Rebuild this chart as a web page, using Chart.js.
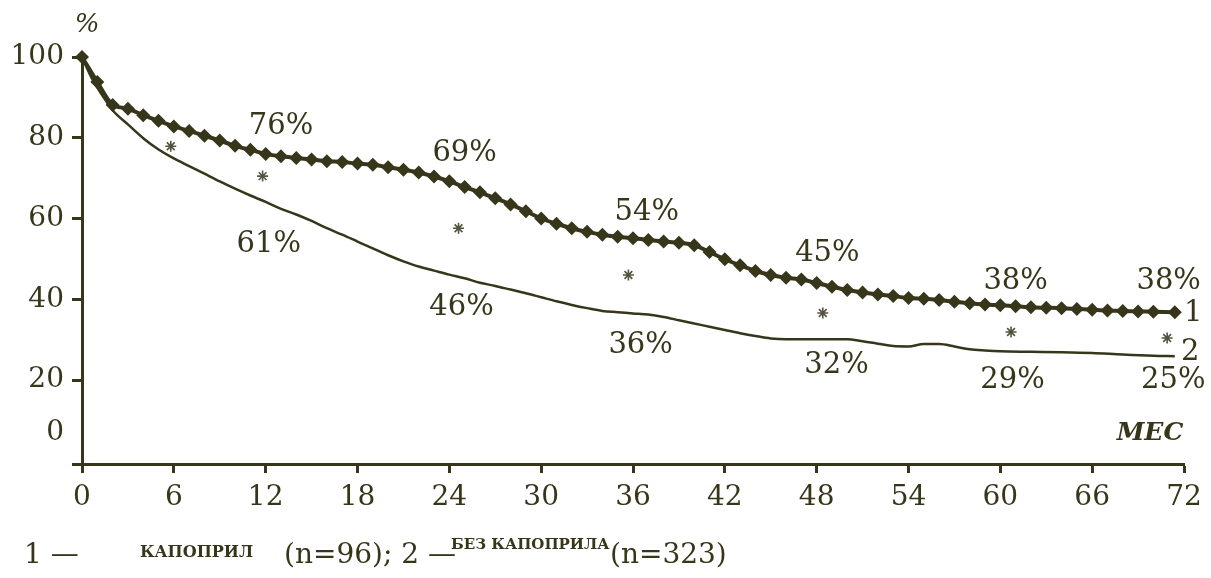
<!DOCTYPE html>
<html>
<head>
<meta charset="utf-8">
<script src="https://cdn.jsdelivr.net/npm/chart.js@4.4.1/dist/chart.umd.min.js"></script>
<style>
  html, body { margin: 0; padding: 0; background: #fff; }
  #survival { display: block; }
</style>
</head>
<body>
<canvas id="survival" width="1211" height="578"></canvas>
<script>
// series 1 - with captopril (diamond markers), months / percent
const monthsCaptopril = [0, 1, 2, 3, 4, 5, 6, 7, 8, 9,
  10, 11, 12, 13, 14, 15, 16, 17, 18, 19,
  20, 21, 22, 23, 24, 25, 26, 27, 28, 29,
  30, 31, 32, 33, 34, 35, 36, 37, 38, 39,
  40, 41, 42, 43, 44, 45, 46, 47, 48, 49,
  50, 51, 52, 53, 54, 55, 56, 57, 58, 59,
  60, 61, 62, 63, 64, 65, 66, 67, 68, 69,
  70, 71.4];
const valuesCaptopril = [100, 93.8, 88.1, 87.2, 85.6, 84.2, 82.8, 81.7, 80.5, 79.3,
  78.0, 77.0, 76.0, 75.4, 75.0, 74.6, 74.2, 74.0, 73.6, 73.3,
  72.7, 72.1, 71.4, 70.4, 69.2, 67.8, 66.5, 65.0, 63.5, 61.8,
  60.0, 58.7, 57.6, 56.7, 56.0, 55.5, 55.1, 54.7, 54.3, 54.0,
  53.4, 51.7, 49.9, 48.4, 47.0, 46.0, 45.3, 44.9, 44.0, 43.1,
  42.3, 41.7, 41.2, 40.8, 40.3, 40.1, 39.8, 39.4, 39.0, 38.7,
  38.5, 38.3, 38.0, 37.9, 37.8, 37.6, 37.4, 37.2, 37.1, 37.0,
  36.9, 36.8];

// series 2 - without captopril (plain line)
const monthsNoCaptopril = [0, 0.7, 1.4, 2, 3, 4, 5, 6, 7, 8, 9, 10, 11, 12, 13, 14, 15,
  16, 17, 18, 19, 20, 21, 22, 23, 24, 25, 26, 27, 28, 29, 30, 31, 32, 33, 34, 35,
  36, 37, 38, 39, 40, 41, 42, 43, 44, 45, 46, 47, 48, 49, 50, 51, 52, 53, 54, 55,
  56, 57, 58, 59, 60, 62, 64, 66, 68, 70, 71.4];
const valuesNoCaptopril = [100, 94.3, 90.1, 86.8, 83.3, 79.9, 77.1, 74.9, 73.0, 71.1, 69.2, 67.4, 65.7, 64.1, 62.4, 61.0, 59.4,
  57.6, 56.0, 54.3, 52.6, 50.9, 49.4, 48.1, 47.1, 46.1, 45.2, 44.1, 43.3, 42.4, 41.5, 40.5, 39.5, 38.6, 37.8, 37.1, 36.8,
  36.5, 36.2, 35.6, 34.8, 34.0, 33.2, 32.4, 31.6, 30.9, 30.3, 30.1, 30.1, 30.1, 30.1, 30.1, 29.6, 29.0, 28.4, 28.3, 28.9,
  28.9, 28.3, 27.6, 27.3, 27.1, 27.0, 26.9, 26.7, 26.3, 26.0, 25.9];

// significance asterisks
const starMonths = [5.8, 11.8, 24.6, 35.7, 48.4, 60.7, 70.9];
const starValues = [77.9, 70.5, 57.6, 46.0, 36.6, 31.9, 30.4];

// percent labels (anchored in data units)
const labelTexts = ['76%', '69%', '54%', '45%', '38%', '38%', '61%', '46%', '36%', '32%', '29%', '25%', '1', '2'];
const labelMonths = [13.0, 25.0, 36.9, 48.7, 61.0, 71.0, 12.2, 24.8, 36.5, 49.3, 60.8, 71.3, 72.6, 72.4];
const labelValues = [82.9, 76.2, 61.6, 51.4, 44.5, 44.5, 53.6, 38.0, 28.6, 23.7, 20.0, 20.0, 36.6, 26.9];

// axis ticks
const xTickStep = 6;
const yTickValues = [-0.8, 7, 20, 40, 60, 80, 100];
const yTickLabels = ['', '0', '20', '40', '60', '80', '100'];

const INK = '#38361a';
const SERIF = '"DejaVu Serif", "Liberation Serif", serif';

const textPlugin = {
    id: 'textPlugin',
    afterDatasetsDraw(chart) {
        const ctx = chart.ctx;
        const xs = chart.scales.x;
        const ys = chart.scales.y;
        ctx.save();
        ctx.fillStyle = INK;
        ctx.textAlign = 'center';
        ctx.textBaseline = 'middle';
        ctx.font = '29px ' + SERIF;
        labelTexts.forEach((t, i) => {
            ctx.fillText(t, xs.getPixelForValue(labelMonths[i]), ys.getPixelForValue(labelValues[i]));
        });

        // axis captions
        ctx.font = 'italic 26px ' + SERIF;
        ctx.fillText('%', 87, 25);
        ctx.font = 'italic bold 25px ' + SERIF;
        ctx.fillText('МЕС', 1150, 433);

        // legend line
        ctx.textAlign = 'left';
        ctx.font = '28px ' + SERIF;
        ctx.fillText('1 —', 24, 556);
        ctx.font = 'bold 16px ' + SERIF;
        ctx.fillText('КАПОПРИЛ', 140, 553);
        ctx.font = '28px ' + SERIF;
        ctx.fillText('(n=96); 2 —', 284, 556);
        ctx.font = 'bold 15px ' + SERIF;
        ctx.fillText('БЕЗ КАПОПРИЛА', 451, 545);
        ctx.font = '28px ' + SERIF;
        ctx.fillText('(n=323)', 610, 556);
        ctx.restore();
    }
};

new Chart(document.getElementById('survival'), {
    type: 'line',
    data: {
        datasets: [{
            label: 'каптоприл',
            data: monthsCaptopril.map((m, i) => ({ x: m, y: valuesCaptopril[i] })),
            borderColor: INK,
            borderWidth: 4,
            backgroundColor: INK,
            pointStyle: 'rectRot',
            pointRadius: 7,
            pointBorderWidth: 0,
            tension: 0.3,
            clip: false
        }, {
            label: 'без каптоприла',
            data: monthsNoCaptopril.map((m, i) => ({ x: m, y: valuesNoCaptopril[i] })),
            borderColor: INK,
            borderWidth: 2.5,
            pointRadius: 0,
            cubicInterpolationMode: 'monotone',
            clip: false
        }, {
            label: '*',
            type: 'scatter',
            data: starMonths.map((m, i) => ({ x: m, y: starValues[i] })),
            pointStyle: 'star',
            pointRadius: 5.5,
            borderColor: '#55533f',
            borderWidth: 1.6,
            showLine: false
        }]
    },
    options: {
        responsive: false,
        animation: false,
        layout: { padding: { top: 57, right: 27, left: 0, bottom: 0 } },
        plugins: {
            legend: { display: false },
            tooltip: { enabled: false }
        },
        scales: {
            x: {
                type: 'linear',
                min: 0,
                max: 72,
                afterFit: s => { s.height = 114; },
                ticks: {
                    stepSize: xTickStep,
                    color: INK,
                    padding: 8,
                    maxRotation: 0,
                    font: { family: SERIF, size: 28 }
                },
                grid: { drawOnChartArea: false, tickLength: 9, tickColor: INK, tickWidth: 3 },
                border: { display: true, color: INK, width: 3 }
            },
            y: {
                type: 'linear',
                min: -0.8,
                max: 100,
                afterFit: s => { s.width = 82; },
                afterBuildTicks: s => { s.ticks = yTickValues.map(v => ({ value: v })); },
                ticks: {
                    color: INK,
                    padding: 8,
                    font: { family: SERIF, size: 28 },
                    callback: v => yTickLabels[yTickValues.indexOf(v)]
                },
                grid: {
                    drawOnChartArea: false,
                    tickLength: 10,
                    tickWidth: 3,
                    tickColor: c => (c.tick && c.tick.value === 7) ? 'rgba(0,0,0,0)' : INK
                },
                border: { display: true, color: INK, width: 3 }
            }
        }
    },
    plugins: [textPlugin]
});
</script>
</body>
</html>
